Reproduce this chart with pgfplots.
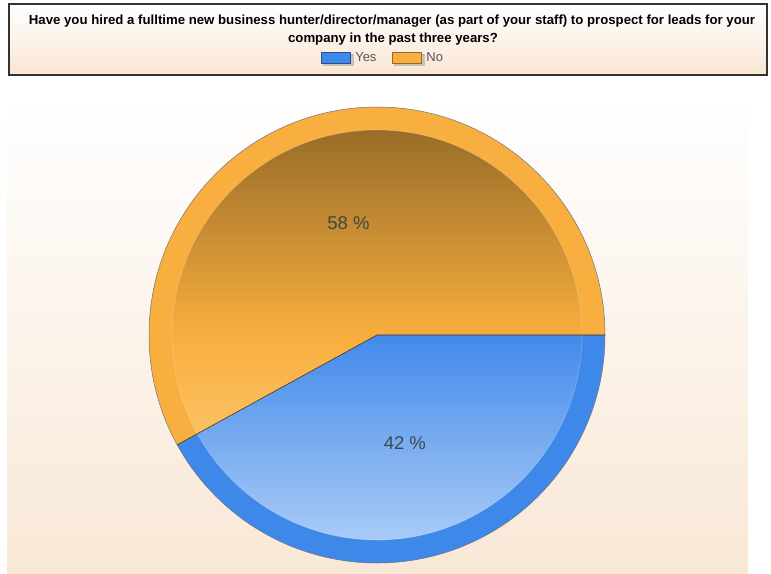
\documentclass[border=0pt]{standalone}
\usepackage{pgfplots}
\pgfplotsset{compat=1.18}
\usepackage{pgfplotstable}
\usetikzlibrary{calc}
\usepackage{fontspec}
\setmainfont{Liberation Sans}
\definecolor{orangeR}{HTML}{F9AF3F}
\definecolor{blueR}{HTML}{3E88EA}
\definecolor{oTop}{HTML}{986C28}
\definecolor{oMid}{HTML}{F8AE3E}
\definecolor{oBot}{HTML}{FFD588}
\definecolor{bTop}{HTML}{2A60AA}
\definecolor{bMid}{HTML}{428AEA}
\definecolor{bBot}{HTML}{AACBF7}
\definecolor{panelbot}{HTML}{F8E8D6}
\definecolor{boxbot}{HTML}{FAE6D3}
\definecolor{labtxt}{HTML}{3F4848}
\definecolor{legtxt}{HTML}{555555}
\pgfplotstableread{
label value
Yes 42
No 58
}\piedata
\begin{document}
\begin{tikzpicture}
\pgfplotstablegetelem{0}{value}\of\piedata \edef\vyes{\pgfplotsretval}
\pgfplotstablegetelem{1}{value}\of\piedata \edef\vno{\pgfplotsretval}
\pgfmathsetmacro\angsplit{3.6*\vno}
\pgfmathsetmacro\midno{\angsplit/2}
\pgfmathsetmacro\midyes{(\angsplit+360)/2}
\begin{axis}[x=1pt,y=1pt,xmin=0,xmax=771,ymin=0,ymax=573,
  scale only axis,hide axis,clip=false,anchor=south west,at={(0,0)},
  legend style={at={(axis description cs:0.497,0.8988)},anchor=center,draw=none,fill=none,
    legend columns=2,font=\fontsize{13}{15}\selectfont\color{legtxt},
    /tikz/every even column/.append style={column sep=14pt}},
  legend image code/.code={\fill[black!40,opacity=0.5] (2pt,-7pt) rectangle (31.5pt,4pt);
    \draw[#1] (0pt,-5pt) rectangle (29pt,6pt);}]
% panel background
\shade[top color=white, bottom color=panelbot] (axis cs:7,0) rectangle (axis cs:748,478);
% title box
\shade[top color=white, bottom color=boxbot] (axis cs:9,498) rectangle (axis cs:767,569);
\draw[black!80,line width=1.2pt] (axis cs:9,498) rectangle (axis cs:767,569);
\node[anchor=base,inner sep=0pt] at (axis cs:392,548) {\bfseries\fontsize{13.2}{15}\selectfont Have you hired a fulltime new business hunter/director/manager (as part of your staff) to prospect for leads for your};
\node[anchor=base,inner sep=0pt] at (axis cs:393,530.5) {\bfseries\fontsize{13.2}{15}\selectfont company in the past three years?};
% outer ring
\fill[orangeR] (axis cs:377,238) -- ++(0:228pt) arc[start angle=0,end angle=\angsplit,radius=228pt] -- cycle;
\fill[blueR] (axis cs:377,238) -- ++(\angsplit:228pt) arc[start angle=\angsplit,end angle=360,radius=228pt] -- cycle;
% inner shaded parts
\begin{scope}
\clip (axis cs:377,238) -- ++(0:205pt) arc[start angle=0,end angle=\angsplit,radius=205pt] -- cycle;
\shade[top color=oTop, bottom color=oMid] (axis cs:170,238) rectangle (axis cs:584,444);
\shade[top color=oMid, bottom color=oBot] (axis cs:170,32) rectangle (axis cs:584,238.5);
\end{scope}
\begin{scope}
\clip (axis cs:377,238) -- ++(\angsplit:205pt) arc[start angle=\angsplit,end angle=360,radius=205pt] -- cycle;
\shade[top color=bTop, bottom color=bMid] (axis cs:170,238) rectangle (axis cs:584,444);
\shade[top color=bMid, bottom color=bBot] (axis cs:170,32) rectangle (axis cs:584,238.5);
\end{scope}
\draw[white,opacity=0.2,line width=0.8pt] (axis cs:377,238) circle[radius=205pt];
% edges
\draw[black!55,line width=0.5pt] (axis cs:377,238) circle[radius=228pt];
\draw[black!70!orangeR,line width=0.6pt] (axis cs:377,238) ++(\angsplit:228pt) -- (axis cs:377,238) -- ++(0:228pt);
% labels
\node[labtxt,font=\fontsize{18.5}{20}\selectfont] at ($(axis cs:377,238)+(\midno:115pt)$) {\vno\ \%};
\node[labtxt,font=\fontsize{18.5}{20}\selectfont] at ($(axis cs:377,238)+(\midyes:112pt)$) {\vyes\ \%};
\addlegendimage{fill=blueR,draw=blueR!60!black}
\addlegendentry{Yes}
\addlegendimage{fill=orangeR,draw=orangeR!60!black}
\addlegendentry{No}
\end{axis}
\pgfresetboundingbox
\useasboundingbox (0,0) rectangle (771pt,573pt);
\end{tikzpicture}
\end{document}
